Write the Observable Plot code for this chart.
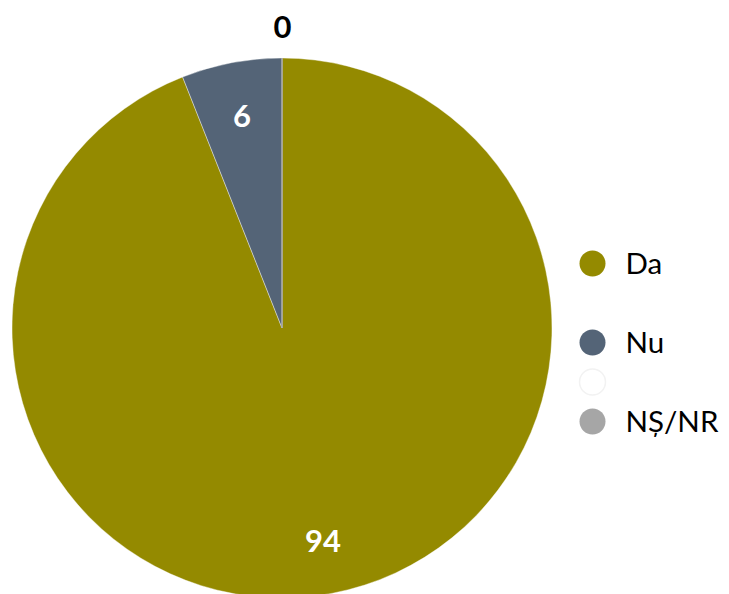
<!DOCTYPE html>
<html>
<head>
<meta charset="utf-8">
<script src="https://cdn.jsdelivr.net/npm/d3@7"></script>
<script src="https://cdn.jsdelivr.net/npm/@observablehq/plot@0.6"></script>
<style>
  html, body { margin: 0; padding: 0; background: #fff; }
  svg { display: block; }
</style>
</head>
<body>
<div id="chart"></div>
<script>
// Data
const categories = ["Da", "blank1", "Nu", "blank2", "NȘ/NR"];
const legendLabels = ["Da", "", "Nu", "", "NȘ/NR"];
const values = [94, 0, 6, 0, 0];
const showLabel = [true, false, true, false, true];
const colors = ["#948A00", "#FFFFFF", "#546477", "#FFFFFF", "#A6A6A6"];
const legendStroke = ["none", "none", "none", "#F2F2F2", "none"];

// Layout
const W = 729, H = 594;
const cx = 282, cy = 328, R = 270;
const legendX = 592, legendY0 = 263, legendStep = 39.5, legendR = 13;

const data = categories.map((c, i) => ({category: c, label: legendLabels[i], value: values[i], show: showLabel[i], i}));

const pie = d3.pie().sort(null).value(d => d.value).startAngle(0).endAngle(2 * Math.PI);
const arcs = pie(data);
const arcGen = d3.arc().innerRadius(0).outerRadius(R);

// Label positions from arc centroids
const labelData = arcs.filter(a => a.data.show).map(a => {
  const mid = (a.startAngle + a.endAngle) / 2;
  const inside = a.data.value > 0;
  const rr = inside ? 0.8 * R : 1.115 * R;
  return {
    text: String(a.data.value),
    x: cx + rr * Math.sin(mid),
    y: cy - rr * Math.cos(mid),
    fill: inside ? "white" : "black"
  };
});

const legendData = data.map((d, k) => ({...d, lx: legendX, ly: legendY0 + k * legendStep, stroke: legendStroke[k]}))
  ;
const legendText = legendData.filter(d => d.label !== "");

const colorScale = Plot.scale({color: {domain: categories, range: colors}});

const chart = Plot.plot({
  width: W,
  height: H,
  margin: 0,
  style: {fontFamily: "Lato, 'Open Sans', sans-serif", background: "white"},
  x: {type: "identity", axis: null},
  y: {type: "identity", axis: null},
  color: {domain: categories, range: colors},
  marks: [
    // pie slices
    (index, scales) => {
      const color = (scales && scales.color) ? scales.color : (c => colorScale.apply(c));
      const g = d3.create("svg:g").attr("transform", `translate(${cx},${cy})`);
      g.selectAll("path")
        .data(arcs)
        .join("path")
        .attr("d", arcGen)
        .attr("fill", a => color(a.data.category))
        .attr("stroke", a => a.data.value === 0 ? (a.data.category === "NȘ/NR" ? color(a.data.category) : "none") : "white")
        .attr("stroke-width", a => a.data.value === 0 ? 1 : 0.4);
      return g.node();
    },
    Plot.text(labelData, {
      x: "x", y: "y", text: "text", fill: "fill",
      fontSize: 31, fontWeight: "bold", textAnchor: "middle", dy: 1
    }),
    Plot.dot(legendData, {
      x: "lx", y: "ly", r: legendR, fill: "category", stroke: "stroke", strokeWidth: 1.5
    }),
    Plot.text(legendText, {
      x: d => d.lx + 33, y: "ly", text: "label", textAnchor: "start",
      fontSize: 29.5, fill: "black", dy: 1
    })
  ]
});

document.getElementById("chart").appendChild(chart);
</script>
</body>
</html>
